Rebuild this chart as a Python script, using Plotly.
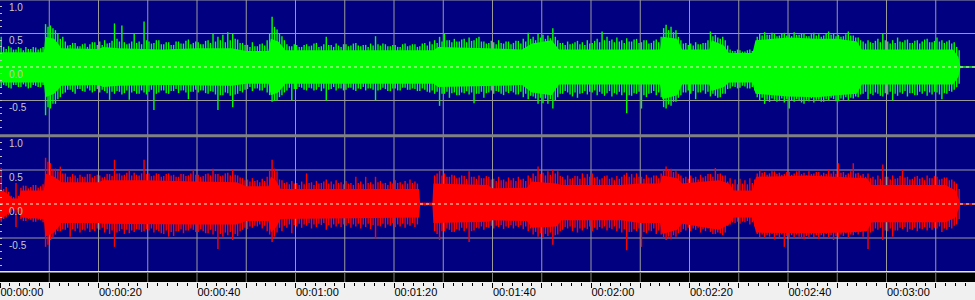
import plotly.graph_objects as go

W, H = 975, 300
PX_PER_S = 4.925          # horizontal scale of the reference (pixels per second)
T_MAX = W / PX_PER_S

GREEN = "#00ff00"
RED = "#ff0000"
NAVY = "#000080"
GRID = "#9a9a9a"

# ---------------- data ----------------
tick_seconds = [0, 10, 20, 30, 40, 50, 60, 70, 80, 90, 100, 110, 120, 130, 140, 150, 160, 170, 180, 190]
y_label_values = [1.0, 0.5, 0.0, -0.5]
y_label_text = ["1.0", "0.5", "0.0", "-0.5"]

# dense core envelope, left channel (green)
body_t_g = [0, 8.9, 9.2, 11, 12.5, 20, 21, 24, 33, 40, 47, 50, 54.5, 55, 56.5, 58, 88, 89, 99, 106,
            108, 112, 113.5, 134, 134.5, 137.5, 138.5, 144, 144.5, 147, 148, 152.8, 153.4, 160, 166,
            170, 174, 175, 193.5, 194.6, 195, 198]
body_hi_g = [0.22, 0.22, 0.45, 0.42, 0.28, 0.27, 0.30, 0.28, 0.26, 0.28, 0.28, 0.24, 0.24, 0.42, 0.38,
             0.25, 0.25, 0.30, 0.28, 0.26, 0.35, 0.40, 0.26, 0.26, 0.45, 0.42, 0.26, 0.26, 0.40, 0.32,
             0.21, 0.21, 0.40, 0.44, 0.42, 0.42, 0.38, 0.26, 0.26, 0.15, 0.01, 0.01]
body_lo_g = [-0.23, -0.23, -0.45, -0.40, -0.28, -0.27, -0.30, -0.28, -0.27, -0.27, -0.28, -0.25, -0.25,
             -0.42, -0.38, -0.25, -0.25, -0.30, -0.28, -0.27, -0.38, -0.42, -0.26, -0.26, -0.48, -0.42,
             -0.26, -0.26, -0.36, -0.30, -0.23, -0.23, -0.40, -0.44, -0.45, -0.42, -0.40, -0.26, -0.26,
             -0.15, -0.01, -0.01]

# half-second peaks, left channel (green), t = 0, 0.5, ... 195.5 s
peak_hi_g = [
    0.45, 0.30, 0.27, 0.31, 0.29, 0.26, 0.26, 0.30, 0.28, 0.25, 0.30, 0.27, 0.27, 0.30, 0.29, 0.26, 0.28, 0.30, 0.64, 0.60,
    0.62, 0.58, 0.55, 0.50, 0.42, 0.45, 0.38, 0.32, 0.33, 0.36, 0.36, 0.31, 0.31, 0.34, 0.35, 0.30, 0.34, 0.37, 0.37, 0.33,
    0.38, 0.33, 0.40, 0.35, 0.36, 0.39, 0.65, 0.42, 0.38, 0.62, 0.37, 0.34, 0.35, 0.38, 0.50, 0.36, 0.38, 0.34, 0.68, 0.40,
    0.38, 0.35, 0.36, 0.40, 0.40, 0.34, 0.34, 0.37, 0.37, 0.33, 0.33, 0.38, 0.38, 0.35, 0.35, 0.39, 0.41, 0.34, 0.36, 0.38,
    0.37, 0.34, 0.34, 0.39, 0.40, 0.36, 0.50, 0.38, 0.45, 0.40, 0.48, 0.37, 0.52, 0.40, 0.50, 0.42, 0.41, 0.36, 0.36, 0.33,
    0.33, 0.30, 0.37, 0.31, 0.31, 0.34, 0.35, 0.32, 0.40, 0.50, 0.75, 0.60, 0.56, 0.50, 0.46, 0.40, 0.34, 0.31, 0.31, 0.34,
    0.33, 0.30, 0.30, 0.33, 0.34, 0.31, 0.32, 0.35, 0.36, 0.30, 0.31, 0.34, 0.45, 0.33, 0.33, 0.30, 0.35, 0.32, 0.30, 0.34,
    0.34, 0.31, 0.32, 0.35, 0.36, 0.32, 0.31, 0.33, 0.33, 0.30, 0.35, 0.32, 0.46, 0.34, 0.32, 0.35, 0.34, 0.31, 0.31, 0.33,
    0.33, 0.30, 0.30, 0.34, 0.35, 0.31, 0.32, 0.34, 0.34, 0.30, 0.31, 0.35, 0.36, 0.32, 0.38, 0.34, 0.40, 0.36, 0.45, 0.38,
    0.50, 0.40, 0.40, 0.37, 0.42, 0.38, 0.38, 0.41, 0.42, 0.37, 0.44, 0.39, 0.40, 0.43, 0.45, 0.38, 0.38, 0.35, 0.36, 0.39,
    0.37, 0.34, 0.40, 0.36, 0.35, 0.38, 0.38, 0.34, 0.36, 0.39, 0.39, 0.35, 0.42, 0.38, 0.51, 0.42, 0.45, 0.40, 0.50, 0.44,
    0.48, 0.42, 0.47, 0.43, 0.58, 0.45, 0.40, 0.36, 0.36, 0.33, 0.38, 0.34, 0.35, 0.37, 0.39, 0.34, 0.37, 0.33, 0.40, 0.35,
    0.36, 0.39, 0.42, 0.37, 0.53, 0.40, 0.45, 0.39, 0.41, 0.37, 0.44, 0.38, 0.40, 0.36, 0.43, 0.38, 0.38, 0.41, 0.42, 0.36,
    0.37, 0.40, 0.40, 0.35, 0.36, 0.39, 0.41, 0.37, 0.45, 0.58, 0.63, 0.55, 0.60, 0.52, 0.55, 0.45, 0.40, 0.35, 0.36, 0.33,
    0.35, 0.32, 0.37, 0.34, 0.34, 0.36, 0.36, 0.40, 0.53, 0.46, 0.48, 0.44, 0.42, 0.45, 0.40, 0.32, 0.26, 0.24, 0.24, 0.26,
    0.25, 0.23, 0.23, 0.25, 0.26, 0.24, 0.30, 0.45, 0.50, 0.47, 0.52, 0.48, 0.48, 0.51, 0.50, 0.46, 0.47, 0.50, 0.51, 0.47,
    0.49, 0.46, 0.52, 0.48, 0.48, 0.50, 0.50, 0.46, 0.46, 0.49, 0.51, 0.47, 0.49, 0.45, 0.47, 0.50, 0.53, 0.48, 0.50, 0.46,
    0.48, 0.45, 0.46, 0.49, 0.53, 0.47, 0.47, 0.44, 0.44, 0.40, 0.38, 0.35, 0.40, 0.37, 0.36, 0.39, 0.42, 0.37, 0.50, 0.40,
    0.38, 0.35, 0.40, 0.36, 0.44, 0.38, 0.37, 0.40, 0.41, 0.36, 0.36, 0.39, 0.40, 0.35, 0.38, 0.41, 0.42, 0.37, 0.37, 0.39,
    0.44, 0.38, 0.40, 0.36, 0.38, 0.40, 0.35, 0.37, 0.30, 0.25, 0.0, 0.0,
]
peak_lo_g = [
    -0.30, -0.27, -0.28, -0.31, -0.32, -0.27, -0.27, -0.30, -0.30, -0.26, -0.29, -0.32, -0.31, -0.27, -0.28, -0.30, -0.30, -0.27, -0.72, -0.60,
    -0.62, -0.55, -0.55, -0.48, -0.45, -0.40, -0.38, -0.34, -0.34, -0.37, -0.40, -0.33, -0.33, -0.36, -0.37, -0.32, -0.35, -0.38, -0.36, -0.33,
    -0.38, -0.34, -0.36, -0.39, -0.49, -0.37, -0.40, -0.36, -0.37, -0.41, -0.39, -0.35, -0.49, -0.38, -0.36, -0.40, -0.40, -0.35, -0.38, -0.41,
    -0.37, -0.34, -0.64, -0.40, -0.38, -0.35, -0.35, -0.39, -0.40, -0.36, -0.36, -0.33, -0.39, -0.35, -0.35, -0.38, -0.48, -0.37, -0.37, -0.34,
    -0.38, -0.35, -0.35, -0.39, -0.40, -0.36, -0.37, -0.41, -0.64, -0.42, -0.42, -0.38, -0.39, -0.43, -0.60, -0.41, -0.40, -0.36, -0.38, -0.34,
    -0.33, -0.30, -0.36, -0.32, -0.32, -0.35, -0.35, -0.31, -0.38, -0.42, -0.52, -0.50, -0.50, -0.45, -0.42, -0.38, -0.35, -0.31, -0.50, -0.33,
    -0.33, -0.30, -0.31, -0.34, -0.35, -0.31, -0.32, -0.35, -0.34, -0.30, -0.36, -0.32, -0.50, -0.34, -0.33, -0.30, -0.35, -0.32, -0.32, -0.35,
    -0.34, -0.31, -0.31, -0.34, -0.36, -0.32, -0.33, -0.30, -0.35, -0.32, -0.32, -0.34, -0.50, -0.35, -0.34, -0.31, -0.33, -0.36, -0.36, -0.32,
    -0.32, -0.35, -0.35, -0.31, -0.31, -0.34, -0.34, -0.32, -0.33, -0.36, -0.36, -0.32, -0.34, -0.37, -0.38, -0.35, -0.40, -0.37, -0.58, -0.40,
    -0.40, -0.37, -0.46, -0.39, -0.38, -0.42, -0.42, -0.38, -0.39, -0.36, -0.41, -0.38, -0.54, -0.40, -0.40, -0.37, -0.46, -0.39, -0.38, -0.35,
    -0.40, -0.36, -0.37, -0.40, -0.42, -0.37, -0.39, -0.36, -0.38, -0.41, -0.41, -0.37, -0.45, -0.40, -0.48, -0.43, -0.44, -0.47, -0.55, -0.46,
    -0.54, -0.47, -0.55, -0.48, -0.62, -0.50, -0.45, -0.40, -0.40, -0.36, -0.38, -0.41, -0.44, -0.38, -0.46, -0.40, -0.39, -0.36, -0.41, -0.37,
    -0.38, -0.35, -0.42, -0.37, -0.40, -0.43, -0.39, -0.36, -0.44, -0.39, -0.41, -0.37, -0.42, -0.38, -0.69, -0.42, -0.43, -0.39, -0.40, -0.37,
    -0.62, -0.42, -0.45, -0.40, -0.39, -0.36, -0.42, -0.38, -0.45, -0.60, -0.62, -0.56, -0.58, -0.52, -0.52, -0.46, -0.42, -0.38, -0.38, -0.35,
    -0.40, -0.36, -0.48, -0.38, -0.38, -0.35, -0.40, -0.37, -0.44, -0.40, -0.43, -0.46, -0.45, -0.40, -0.40, -0.33, -0.32, -0.29, -0.30, -0.32,
    -0.31, -0.28, -0.29, -0.32, -0.32, -0.30, -0.35, -0.45, -0.50, -0.46, -0.55, -0.49, -0.52, -0.47, -0.49, -0.52, -0.51, -0.47, -0.53, -0.48,
    -0.62, -0.50, -0.52, -0.48, -0.50, -0.53, -0.55, -0.49, -0.51, -0.47, -0.53, -0.49, -0.49, -0.52, -0.52, -0.48, -0.50, -0.46, -0.48, -0.51,
    -0.51, -0.47, -0.49, -0.45, -0.50, -0.46, -0.47, -0.44, -0.45, -0.41, -0.40, -0.37, -0.48, -0.40, -0.42, -0.38, -0.40, -0.43, -0.44, -0.39,
    -0.41, -0.37, -0.50, -0.40, -0.43, -0.38, -0.40, -0.36, -0.44, -0.39, -0.39, -0.42, -0.42, -0.37, -0.40, -0.36, -0.43, -0.38, -0.41, -0.37,
    -0.38, -0.41, -0.48, -0.39, -0.40, -0.36, -0.37, -0.34, -0.30, -0.25, 0.0, 0.0,
]

# dense core envelope, right channel (red)
body_t_r = [0, 1.5, 2.5, 3.8, 4.2, 8.9, 9.2, 11, 12.5, 20, 21, 29.5, 40, 48, 50, 54.5, 55, 56, 57, 85.1,
            85.3, 87.8, 88.0, 99, 100, 107, 108, 113, 114, 126, 130, 134, 134.5, 137.5, 138.5, 146, 148,
            149, 152.8, 153.5, 164, 172, 176, 177, 192, 194, 195, 198]
body_hi_r = [0.22, 0.15, 0.08, 0.08, 0.20, 0.20, 0.45, 0.40, 0.32, 0.32, 0.35, 0.35, 0.33, 0.32, 0.26,
             0.26, 0.40, 0.35, 0.22, 0.22, 0.02, 0.02, 0.30, 0.28, 0.23, 0.24, 0.33, 0.30, 0.28, 0.28,
             0.30, 0.30, 0.42, 0.38, 0.30, 0.35, 0.30, 0.20, 0.20, 0.40, 0.42, 0.40, 0.38, 0.28, 0.28,
             0.20, 0.01, 0.01]
body_lo_r = [-0.24, -0.15, -0.08, -0.08, -0.20, -0.22, -0.48, -0.42, -0.28, -0.28, -0.29, -0.30, -0.30,
             -0.30, -0.25, -0.25, -0.42, -0.35, -0.22, -0.20, -0.02, -0.02, -0.28, -0.26, -0.24, -0.25,
             -0.35, -0.33, -0.24, -0.24, -0.28, -0.28, -0.44, -0.38, -0.29, -0.38, -0.30, -0.20, -0.20,
             -0.42, -0.43, -0.42, -0.40, -0.27, -0.27, -0.20, -0.01, -0.01]

# half-second peaks, right channel (red), t = 0, 0.5, ... 195.5 s
peak_hi_r = [
    0.53, 0.22, 0.25, 0.18, 0.12, 0.10, 0.31, 0.12, 0.24, 0.27, 0.27, 0.23, 0.25, 0.28, 0.28, 0.24, 0.26, 0.29, 0.68, 0.62,
    0.60, 0.52, 0.52, 0.48, 0.55, 0.45, 0.45, 0.40, 0.40, 0.44, 0.42, 0.38, 0.43, 0.40, 0.40, 0.44, 0.44, 0.39, 0.41, 0.43,
    0.42, 0.39, 0.40, 0.44, 0.44, 0.41, 0.65, 0.45, 0.45, 0.42, 0.43, 0.46, 0.50, 0.42, 0.46, 0.43, 0.42, 0.45, 0.65, 0.44,
    0.45, 0.41, 0.42, 0.45, 0.44, 0.40, 0.41, 0.44, 0.45, 0.42, 0.43, 0.40, 0.40, 0.44, 0.44, 0.41, 0.42, 0.45, 0.50, 0.43,
    0.43, 0.40, 0.41, 0.44, 0.45, 0.42, 0.52, 0.44, 0.44, 0.41, 0.42, 0.45, 0.46, 0.42, 0.50, 0.43, 0.42, 0.39, 0.38, 0.35,
    0.36, 0.33, 0.38, 0.34, 0.35, 0.32, 0.37, 0.34, 0.40, 0.50, 0.65, 0.52, 0.48, 0.36, 0.35, 0.31, 0.32, 0.29, 0.34, 0.30,
    0.31, 0.28, 0.33, 0.29, 0.45, 0.31, 0.32, 0.28, 0.34, 0.30, 0.31, 0.33, 0.36, 0.30, 0.33, 0.29, 0.35, 0.31, 0.32, 0.29,
    0.34, 0.30, 0.31, 0.28, 0.40, 0.31, 0.33, 0.29, 0.40, 0.31, 0.32, 0.29, 0.40, 0.32, 0.34, 0.30, 0.31, 0.28, 0.33, 0.30,
    0.35, 0.31, 0.32, 0.29, 0.34, 0.30, 0.36, 0.31, 0.33, 0.30, 0.02, 0.02, 0.02, 0.02, 0.02, 0.02, 0.42, 0.45, 0.50, 0.42,
    0.45, 0.40, 0.40, 0.43, 0.42, 0.38, 0.39, 0.42, 0.41, 0.37, 0.48, 0.40, 0.40, 0.37, 0.42, 0.38, 0.38, 0.41, 0.40, 0.36,
    0.37, 0.34, 0.40, 0.35, 0.36, 0.33, 0.39, 0.35, 0.38, 0.34, 0.40, 0.36, 0.37, 0.34, 0.42, 0.38, 0.45, 0.41, 0.55, 0.44,
    0.46, 0.42, 0.48, 0.43, 0.50, 0.45, 0.48, 0.41, 0.40, 0.36, 0.42, 0.37, 0.38, 0.41, 0.41, 0.37, 0.45, 0.39, 0.44, 0.40,
    0.45, 0.39, 0.40, 0.36, 0.38, 0.41, 0.42, 0.37, 0.39, 0.35, 0.41, 0.37, 0.40, 0.43, 0.46, 0.40, 0.44, 0.39, 0.45, 0.40,
    0.40, 0.37, 0.43, 0.39, 0.39, 0.42, 0.42, 0.38, 0.45, 0.50, 0.55, 0.50, 0.52, 0.47, 0.48, 0.44, 0.42, 0.38, 0.40, 0.37,
    0.42, 0.38, 0.40, 0.36, 0.43, 0.39, 0.41, 0.44, 0.44, 0.40, 0.53, 0.44, 0.45, 0.42, 0.42, 0.33, 0.38, 0.30, 0.36, 0.29,
    0.37, 0.30, 0.35, 0.29, 0.38, 0.31, 0.36, 0.45, 0.50, 0.46, 0.47, 0.43, 0.45, 0.48, 0.48, 0.44, 0.46, 0.43, 0.44, 0.47,
    0.47, 0.43, 0.45, 0.48, 0.49, 0.44, 0.46, 0.42, 0.48, 0.44, 0.45, 0.47, 0.47, 0.43, 0.46, 0.44, 0.50, 0.45, 0.48, 0.44,
    0.60, 0.46, 0.47, 0.43, 0.45, 0.48, 0.60, 0.45, 0.46, 0.42, 0.44, 0.40, 0.45, 0.38, 0.40, 0.36, 0.42, 0.37, 0.58, 0.40,
    0.40, 0.36, 0.42, 0.37, 0.38, 0.41, 0.50, 0.39, 0.40, 0.36, 0.37, 0.40, 0.41, 0.37, 0.39, 0.35, 0.42, 0.38, 0.38, 0.41,
    0.40, 0.36, 0.37, 0.39, 0.39, 0.35, 0.36, 0.33, 0.30, 0.22, 0.0, 0.0,
]
peak_lo_r = [
    -0.26, -0.22, -0.20, -0.16, -0.12, -0.10, -0.34, -0.12, -0.22, -0.25, -0.25, -0.22, -0.23, -0.26, -0.26, -0.23, -0.24, -0.27, -0.63, -0.60,
    -0.53, -0.50, -0.45, -0.40, -0.40, -0.37, -0.38, -0.35, -0.48, -0.37, -0.40, -0.36, -0.42, -0.38, -0.39, -0.36, -0.41, -0.37, -0.40, -0.36,
    -0.38, -0.35, -0.42, -0.37, -0.44, -0.39, -0.63, -0.42, -0.40, -0.37, -0.44, -0.38, -0.43, -0.39, -0.41, -0.37, -0.38, -0.41, -0.40, -0.37,
    -0.39, -0.36, -0.42, -0.38, -0.40, -0.43, -0.44, -0.39, -0.48, -0.41, -0.47, -0.40, -0.40, -0.37, -0.43, -0.39, -0.39, -0.36, -0.38, -0.41,
    -0.41, -0.37, -0.40, -0.43, -0.43, -0.38, -0.45, -0.40, -0.66, -0.44, -0.48, -0.42, -0.46, -0.41, -0.53, -0.44, -0.47, -0.40, -0.38, -0.35,
    -0.37, -0.33, -0.35, -0.32, -0.33, -0.30, -0.36, -0.32, -0.40, -0.45, -0.56, -0.48, -0.42, -0.35, -0.40, -0.32, -0.35, -0.30, -0.43, -0.31,
    -0.33, -0.29, -0.35, -0.30, -0.32, -0.28, -0.36, -0.30, -0.34, -0.29, -0.31, -0.28, -0.38, -0.31, -0.35, -0.30, -0.33, -0.29, -0.34, -0.30,
    -0.32, -0.28, -0.35, -0.30, -0.33, -0.29, -0.36, -0.30, -0.34, -0.29, -0.37, -0.31, -0.51, -0.32, -0.33, -0.29, -0.35, -0.30, -0.32, -0.28,
    -0.34, -0.30, -0.33, -0.29, -0.35, -0.30, -0.32, -0.28, -0.34, -0.30, -0.02, -0.02, -0.02, -0.02, -0.02, -0.02, -0.40, -0.44, -0.53, -0.40,
    -0.40, -0.36, -0.38, -0.41, -0.41, -0.37, -0.39, -0.35, -0.40, -0.36, -0.56, -0.40, -0.39, -0.35, -0.36, -0.33, -0.38, -0.34, -0.35, -0.32,
    -0.36, -0.32, -0.34, -0.31, -0.37, -0.33, -0.35, -0.31, -0.36, -0.32, -0.34, -0.31, -0.37, -0.33, -0.40, -0.36, -0.45, -0.41, -0.48, -0.43,
    -0.50, -0.44, -0.47, -0.42, -0.60, -0.46, -0.45, -0.40, -0.38, -0.34, -0.36, -0.33, -0.40, -0.35, -0.42, -0.36, -0.39, -0.35, -0.37, -0.33,
    -0.40, -0.35, -0.38, -0.34, -0.36, -0.33, -0.39, -0.35, -0.37, -0.33, -0.40, -0.36, -0.42, -0.37, -0.68, -0.41, -0.41, -0.37, -0.40, -0.36,
    -0.63, -0.41, -0.43, -0.39, -0.40, -0.36, -0.44, -0.39, -0.45, -0.50, -0.53, -0.48, -0.52, -0.46, -0.48, -0.43, -0.41, -0.37, -0.39, -0.35,
    -0.40, -0.36, -0.38, -0.35, -0.42, -0.37, -0.40, -0.36, -0.41, -0.44, -0.44, -0.42, -0.43, -0.46, -0.42, -0.32, -0.30, -0.27, -0.28, -0.26,
    -0.29, -0.26, -0.27, -0.25, -0.30, -0.27, -0.33, -0.44, -0.49, -0.45, -0.50, -0.46, -0.48, -0.44, -0.52, -0.46, -0.49, -0.45, -0.63, -0.47,
    -0.51, -0.46, -0.50, -0.45, -0.48, -0.51, -0.52, -0.47, -0.50, -0.45, -0.49, -0.46, -0.51, -0.46, -0.48, -0.44, -0.50, -0.46, -0.53, -0.47,
    -0.49, -0.45, -0.47, -0.43, -0.50, -0.45, -0.46, -0.42, -0.45, -0.41, -0.48, -0.40, -0.66, -0.42, -0.40, -0.36, -0.38, -0.35, -0.53, -0.39,
    -0.40, -0.36, -0.48, -0.39, -0.39, -0.35, -0.37, -0.34, -0.41, -0.37, -0.38, -0.35, -0.40, -0.36, -0.37, -0.34, -0.39, -0.35, -0.38, -0.35,
    -0.36, -0.33, -0.41, -0.36, -0.38, -0.34, -0.36, -0.32, -0.30, -0.22, 0.0, 0.0,
]

for arr in (peak_hi_g, peak_lo_g, peak_hi_r, peak_lo_r):
    assert len(arr) == 392, len(arr)
assert len(body_t_g) == len(body_hi_g) == len(body_lo_g)
assert len(body_t_r) == len(body_hi_r) == len(body_lo_r)

peak_t = [k * 0.5 + 0.25 for k in range(392)]


def fmt_time(s):
    return "%02d:%02d:%02d" % (s // 3600, (s % 3600) // 60, s % 60)


# ---------------- figure ----------------
fig = go.Figure()


def add_channel(bt, bhi, blo, phi, plo, color, yax):
    fig.add_trace(go.Scatter(
        x=bt + bt[::-1], y=bhi + blo[::-1], mode="lines", fill="toself",
        fillcolor=color, line=dict(width=0, color=color), yaxis=yax,
        hoverinfo="skip", showlegend=False))
    xs, ys = [], []
    for t, a, b in zip(peak_t, plo, phi):
        xs += [t, t, None]
        ys += [a, b, None]
    fig.add_trace(go.Scatter(
        x=xs, y=ys, mode="lines", line=dict(width=1.4, color=color), yaxis=yax,
        hoverinfo="skip", showlegend=False, connectgaps=False))


add_channel(body_t_g, body_hi_g, body_lo_g, peak_hi_g, peak_lo_g, GREEN, "y")
add_channel(body_t_r, body_hi_r, body_lo_r, peak_hi_r, peak_lo_r, RED, "y2")


def py(px):  # pixel row -> paper fraction
    return 1 - px / H


shapes = []
shapes.append(dict(type="rect", xref="paper", yref="paper", x0=0, x1=1, y0=py(271), y1=1,
                   fillcolor=NAVY, line=dict(width=0), layer="below"))
for yref in ("y", "y2"):
    for v in (1.0, 0.5, -0.5):
        shapes.append(dict(type="line", xref="paper", yref=yref, x0=0, x1=1, y0=v, y1=v,
                           line=dict(color=GRID, width=1), layer="below"))
for s in tick_seconds[1:]:
    shapes.append(dict(type="line", xref="x", yref="paper", x0=s, x1=s, y0=py(282), y1=1,
                       line=dict(color=GRID, width=1), layer="below"))
for yref in ("y", "y2"):
    shapes.append(dict(type="line", xref="paper", yref=yref, x0=0, x1=1, y0=0, y1=0,
                       line=dict(color="#f0f0c8", width=1, dash="3px,3px"), layer="above"))
shapes.append(dict(type="rect", xref="paper", yref="paper", x0=0, x1=1, y0=py(137.3), y1=py(134.3),
                   fillcolor="#808080", line=dict(width=0), layer="above"))
shapes.append(dict(type="rect", xref="paper", yref="paper", x0=0, x1=1, y0=py(272.5), y1=py(271),
                   fillcolor="#e8e8e8", line=dict(width=0), layer="above"))
shapes.append(dict(type="rect", xref="paper", yref="paper", x0=0, x1=1, y0=py(282), y1=py(272.5),
                   fillcolor="#000000", line=dict(width=0), layer="above"))
for s in tick_seconds[1:]:
    shapes.append(dict(type="line", xref="x", yref="paper", x0=s, x1=s, y0=py(282), y1=py(272.5),
                       line=dict(color="#808080", width=1), layer="above"))

annotations = []
for yref in ("y", "y2"):
    for v, txt in zip(y_label_values, y_label_text):
        annotations.append(dict(xref="paper", yref=yref, x=7 / W, y=v, yshift=-7,
                                text=txt, showarrow=False, xanchor="left", yanchor="middle",
                                font=dict(family="Liberation Sans", size=10, color="#c8c8c8")))

tick_text = [fmt_time(s) if s % 20 == 0 else "" for s in tick_seconds]

yaxis_common = dict(range=[-1, 1], showgrid=False, zeroline=False, showticklabels=False,
                    showline=False, ticks="inside", ticklen=2, tickcolor="#c0c0c0",
                    tickmode="linear", tick0=0, dtick=0.1, fixedrange=True)

fig.update_layout(
    width=W, height=H, margin=dict(l=0, r=0, t=0, b=0, pad=0),
    paper_bgcolor="#f0f0f0", plot_bgcolor="rgba(0,0,0,0)",
    showlegend=False, hovermode=False,
    xaxis=dict(range=[0, T_MAX], anchor="free", position=py(282), showgrid=False,
               zeroline=False, showline=False, tickmode="array", tickvals=tick_seconds,
               ticktext=tick_text, ticks="outside", ticklen=5, tickwidth=1, tickcolor="#000000",
               ticklabelposition="outside right",
               tickfont=dict(family="Liberation Sans", size=11, color="#000000"),
               minor=dict(ticks="outside", ticklen=3, tickwidth=1, tickcolor="#000000",
                          tickmode="linear", tick0=0, dtick=2, showgrid=False),
               fixedrange=True),
    yaxis=dict(domain=[py(134), 1], anchor="x", **yaxis_common),
    yaxis2=dict(domain=[py(272), py(136)], anchor="x", **yaxis_common),
    shapes=shapes, annotations=annotations,
)

fig.write_html("out.html")
